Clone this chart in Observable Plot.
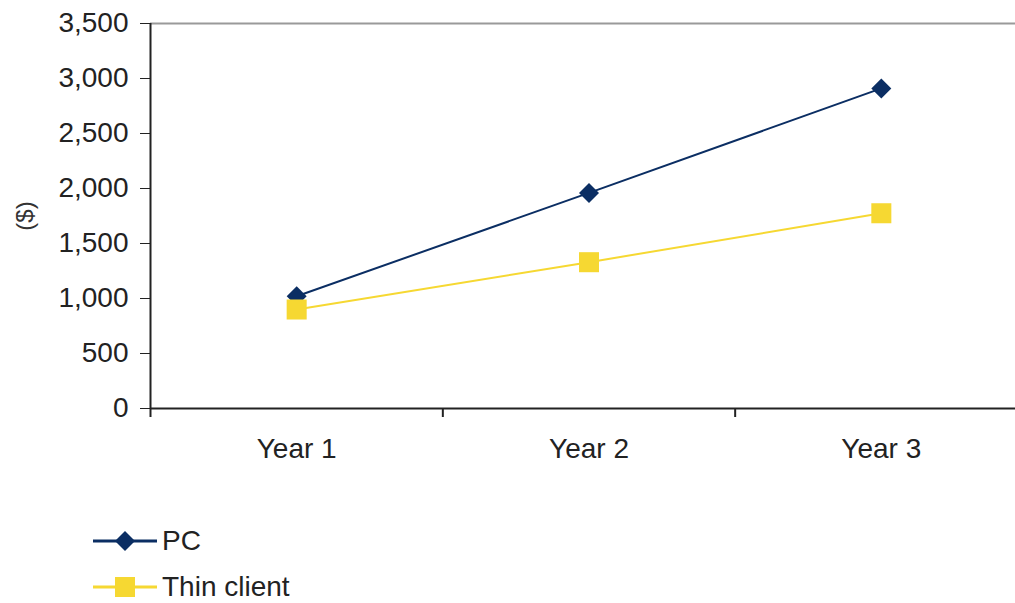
<!DOCTYPE html>
<html><head><meta charset="utf-8">
<script src="https://cdn.jsdelivr.net/npm/d3@7"></script>
<script src="https://cdn.jsdelivr.net/npm/@observablehq/plot@0.6"></script>
<style>
body{margin:0;background:#fff;font-family:"Liberation Sans",Arial,sans-serif;overflow:hidden}
#legend{margin-top:38px}
.row{height:46px;display:flex;align-items:center;position:relative}
.row svg{position:absolute;left:90px;top:0}
.row span{position:absolute;left:162px;font-size:28px;color:#222;line-height:46px}
</style></head><body><div id="chart"></div><div id="legend"></div>
<script>
const years = ["Year 1", "Year 2", "Year 3"];
const pcValues = [1020, 1960, 2910];
const thinValues = [900, 1330, 1775];
const yTicks = [0, 500, 1000, 1500, 2000, 2500, 3000, 3500];
const seriesNames = ["PC", "Thin client"];
const seriesColors = ["#0b2e63", "#f6d832"];
const seriesSymbols = ["diamond2", "square"];

const rows = [];
[pcValues, thinValues].forEach((vals, s) => vals.forEach((v, i) => rows.push({series: seriesNames[s], pos: i + 1, year: years[i], value: v})));
const pc = rows.filter(d => d.series === "PC");
const thin = rows.filter(d => d.series === "Thin client");

const chart = Plot.plot({
  width: 1015, height: 480,
  marginLeft: 150, marginTop: 23, marginBottom: 72, marginRight: 0,
  style: {fontFamily: "Liberation Sans, Arial, sans-serif", fontSize: "28px", color: "#222", background: "#fff"},
  x: {type: "linear", domain: [0.5, 3.5], range: [150, 1027]},
  y: {domain: [0, 3500], range: [408, 23]},
  marks: [
    Plot.ruleY([3500], {stroke: "#9a9a9a", strokeWidth: 2}),
    Plot.axisY(yTicks, {tickSize: 10, tickPadding: 12, tickFormat: d3.format(","), label: null, fontSize: 28, stroke: "#222"}),
    Plot.text(["($)"], {frameAnchor: "left", textAnchor: "middle", dx: -125, rotate: -90, fontSize: 24, fill: "#333"}),
    Plot.axisX([1, 2, 3], {tickSize: 0, tickPadding: 30, tickFormat: d => years[d - 1], label: null, fontSize: 28}),
    Plot.axisX([0.5, 1.5, 2.5], {tickSize: 9, tickFormat: () => "", label: null, stroke: "#222", strokeWidth: 2}),
    Plot.ruleY([0], {stroke: "#222", strokeWidth: 2}),
    Plot.ruleX([0.5], {stroke: "#222", strokeWidth: 2}),
    Plot.line(pc, {x: "pos", y: "value", stroke: seriesColors[0], strokeWidth: 2}),
    Plot.dot(pc, {x: "pos", y: "value", symbol: seriesSymbols[0], r: 9, fill: seriesColors[0], stroke: "none"}),
    Plot.line(thin, {x: "pos", y: "value", stroke: seriesColors[1], strokeWidth: 2}),
    Plot.dot(thin, {x: "pos", y: "value", symbol: seriesSymbols[1], r: 11.3, fill: seriesColors[1], stroke: "none"})
  ]
});
document.getElementById("chart").append(chart);

const legend = document.getElementById("legend");
seriesNames.forEach((name, i) => {
  const row = document.createElement("div");
  row.className = "row";
  const sym = i === 0
    ? `<path d="M35 13 L45 23 L35 33 L25 23 Z" fill="${seriesColors[i]}"/>`
    : `<rect x="25" y="13" width="20" height="20" fill="${seriesColors[i]}"/>`;
  row.innerHTML = `<svg width="72" height="46"><line x1="3" x2="67" y1="23" y2="23" stroke="${seriesColors[i]}" stroke-width="3"/>${sym}</svg><span>${name}</span>`;
  legend.append(row);
});
</script></body></html>
